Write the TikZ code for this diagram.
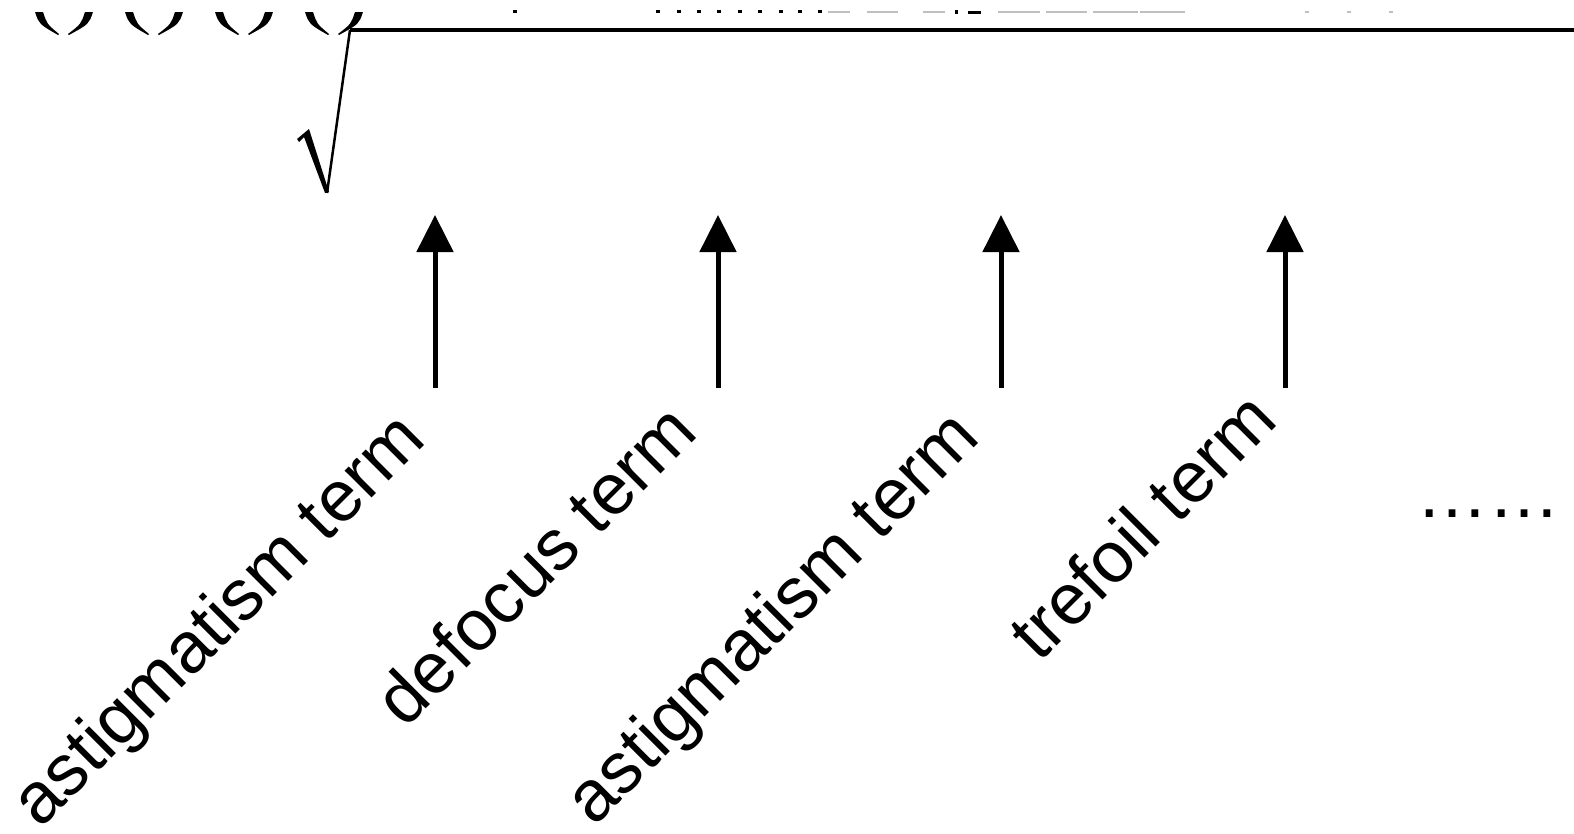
\documentclass[tikz,border=0pt]{standalone}
\usepackage{fontspec}
\setmainfont{Liberation Sans}
\usetikzlibrary{arrows.meta}
\tikzset{
  lbl/.style={rotate=45, anchor=base east, inner sep=0pt, font=\fontsize{72}{80}\selectfont},
  uparrow/.style={line width=5pt, -{Triangle[width=36pt,length=37pt]}},
  paren/.style={fill=black, draw=none},
  frag/.style={fill=black, draw=none},
  fragl/.style={fill=black!25, draw=none},
}
\begin{document}
\begin{tikzpicture}[x=1pt,y=-1pt]
\useasboundingbox (0,0) rectangle (1574,833);
% clipped parentheses bottoms
\foreach \x in {35,125,215,305}{
  \fill[paren] (\x,12) .. controls (\x+4,24) .. (\x+23,35) -- (\x+24,34) .. controls (\x+12,24) .. (\x+8,12) -- cycle;
  \fill[paren] (\x+58,12) .. controls (\x+54,24) .. (\x+34,35) -- (\x+33,34) .. controls (\x+46,24) .. (\x+50,12) -- cycle;
}
% fragments of clipped top text
\foreach \x in {515,658,679,699,719,740,760,781,800,820}{
  \fill[frag] (\x-2,10) rectangle (\x+2,13);
}
\fill[frag] (955,10) rectangle (958,14);
\fill[frag] (968,11) rectangle (981,14);
\foreach \a/\b in {828/850,867/898,923/945,998/1040,1046/1087,1093/1138,1140/1185}{
  \fill[fragl] (\a,11) rectangle (\b,13);
}
\foreach \x in {1307,1349,1391}{
  \fill[fragl] (\x-2,11) rectangle (\x+2,13);
}
% square root sign
\coordinate (rt) at (350,30);
\coordinate (rb) at (327,193);
\coordinate (re) at (1574,30);
\draw[line width=4pt] (rt) -- (re);
\draw[line width=2.5pt] (rb) -- (rt);
\fill (297,139) -- (309,129) -- (329,192) -- (325,193) -- (304,137) -- (299,142) -- cycle;
% arrows
\foreach \n/\x in {1/435,2/718,3/1001,4/1285}{
  \coordinate (b\n) at (\x,388);
  \coordinate (t\n) at (\x,215);
  \draw[uparrow] (b\n) -- (t\n);
}
% labels
\node[lbl] (l1) at (428,442) {astigmatism term};
\node[lbl] (l2) at (700,435) {defocus term};
\node[lbl] (l3) at (982,440) {astigmatism term};
\node[lbl] (l4) at (1280,423) {trefoil term};
\node[anchor=base west, inner sep=0pt, font=\fontsize{72}{80}\selectfont] (dots) at (1416,517) {……};
\end{tikzpicture}
\end{document}
